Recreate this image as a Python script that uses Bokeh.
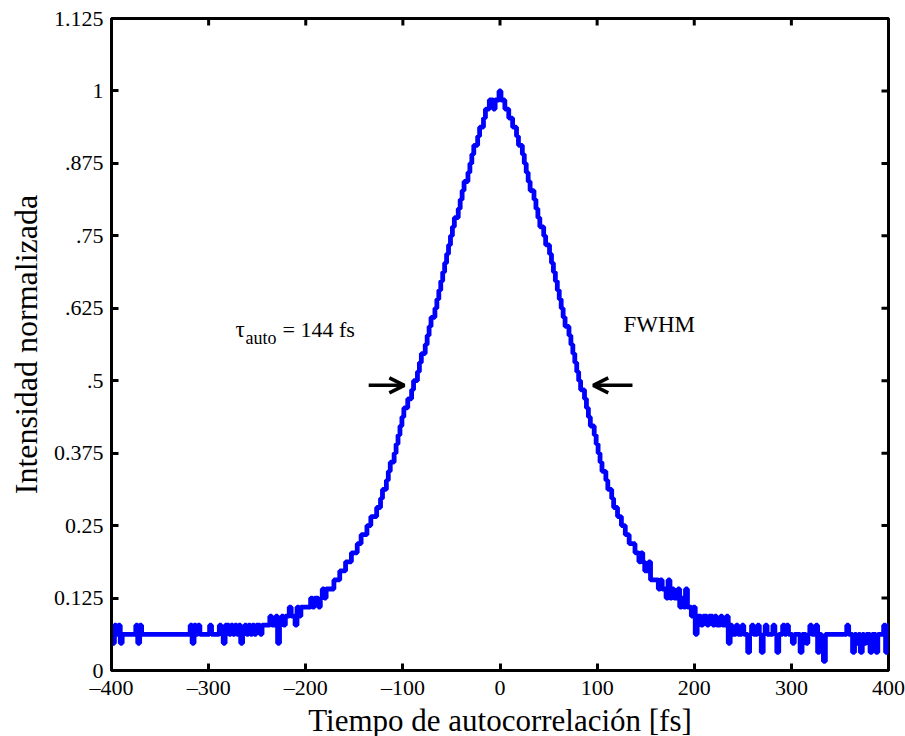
import numpy as np
from bokeh.plotting import figure
from bokeh.models import Range1d, FixedTicker, Arrow, OpenHead
from bokeh.core.properties import value
from bokeh.embed import file_html
from bokeh.resources import INLINE

# ---------------- data (raw detector counts, full scale = 64) ----------------
time_fs = np.arange(-400, 401, 2)  # sampling grid of the autocorrelator, fs

counts_m400 = [4, 3, 5, 4, 5, 3, 4, 4, 4, 4, 4, 4, 4, 5, 3, 5, 4, 4, 4, 4]
counts_m360 = [4, 4, 4, 4, 4, 4, 4, 4, 4, 4, 4, 4, 4, 4, 4, 4, 4, 4, 4, 4]
counts_m320 = [4, 5, 3, 5, 4, 5, 4, 4, 4, 4, 4, 5, 4, 4, 4, 4, 5, 4, 3, 5]
counts_m280 = [5, 4, 5, 4, 5, 4, 5, 3, 4, 5, 4, 5, 4, 5, 4, 5, 5, 4, 5, 5]
counts_m240 = [5, 5, 6, 5, 5, 6, 3, 5, 6, 5, 6, 6, 7, 6, 6, 5, 7, 6, 7, 7]
counts_m200 = [7, 7, 7, 8, 7, 8, 8, 7, 8, 9, 8, 9, 9, 9, 9, 10, 10, 10, 11, 11]
counts_m160 = [11, 12, 12, 12, 13, 13, 13, 14, 14, 15, 15, 15, 16, 16, 17, 17, 17, 18, 18, 19]
counts_m120 = [20, 20, 21, 22, 23, 23, 24, 25, 26, 27, 28, 29, 29, 30, 30, 31, 32, 32, 33, 34]
counts_m80 = [35, 35, 36, 37, 38, 39, 39, 40, 41, 42, 43, 44, 45, 46, 47, 48, 49, 50, 50, 51]
counts_m40 = [52, 53, 54, 54, 55, 56, 57, 58, 58, 59, 60, 60, 61, 62, 62, 63, 63, 62, 63, 63]
counts_p0 = [64, 63, 63, 62, 62, 61, 61, 60, 60, 59, 58, 58, 57, 56, 55, 54, 53, 53, 52, 51]
counts_p40 = [50, 49, 49, 48, 47, 47, 46, 45, 44, 43, 42, 41, 40, 39, 38, 38, 37, 36, 35, 34]
counts_p80 = [33, 32, 31, 31, 30, 29, 28, 27, 27, 26, 25, 24, 23, 22, 22, 21, 20, 20, 19, 18]
counts_p120 = [18, 17, 17, 16, 16, 15, 15, 14, 14, 14, 13, 13, 12, 13, 12, 11, 11, 12, 10, 10]
counts_p160 = [10, 10, 9, 10, 9, 9, 8, 10, 8, 9, 8, 8, 9, 7, 8, 7, 9, 7, 7, 6]
counts_p200 = [7, 4, 6, 6, 5, 6, 6, 5, 6, 6, 5, 6, 5, 5, 6, 5, 5, 6, 3, 5]
counts_p240 = [4, 4, 5, 4, 4, 5, 4, 4, 2, 4, 5, 4, 4, 5, 4, 2, 4, 5, 4, 4]
counts_p280 = [4, 5, 4, 2, 4, 4, 5, 4, 5, 4, 4, 3, 4, 4, 4, 2, 4, 4, 3, 4]
counts_p320 = [5, 4, 4, 5, 2, 4, 3, 1, 4, 4, 4, 4, 4, 4, 4, 4, 4, 4, 4, 5]
counts_p360 = [4, 4, 2, 4, 3, 4, 2, 4, 3, 4, 4, 2, 4, 4, 2, 4, 4, 4, 5, 2]
counts_p400 = [5]

counts = (counts_m400 + counts_m360 + counts_m320 + counts_m280 + counts_m240 +
          counts_m200 + counts_m160 + counts_m120 + counts_m80 + counts_m40 +
          counts_p0 + counts_p40 + counts_p80 + counts_p120 + counts_p160 +
          counts_p200 + counts_p240 + counts_p280 + counts_p320 + counts_p360 +
          counts_p400)
full_scale = 64
intensity = np.array(counts, dtype=float) / full_scale

x_ticks = [-400, -300, -200, -100, 0, 100, 200, 300, 400]
x_tick_labels = ["\u2013400", "\u2013300", "\u2013200", "\u2013100", "0", "100", "200", "300", "400"]
y_ticks = [0, 0.125, 0.25, 0.375, 0.5, 0.625, 0.75, 0.875, 1.0, 1.125]
y_tick_labels = ["0", "0.125", "0.25", "0.375", ".5", ".625", ".75", ".875", "1", "1.125"]

x_label = "Tiempo de autocorrelación [fs]"
y_label = "Intensidad normalizada"

X_MIN, X_MAX = -400, 400
Y_MIN, Y_MAX = 0, 1.125

# annotation placement (data units)
fwhm_y = 0.492
left_arrow = (-135.2, -98.5)
right_arrow = (136.4, 96.0)

FONT = "Liberation Serif"

p = figure(frame_width=777, frame_height=652, output_backend="svg", toolbar_location=None,
           x_range=Range1d(X_MIN, X_MAX), y_range=Range1d(Y_MIN, Y_MAX),
           min_border_left=111, min_border_right=17, min_border_top=18, min_border_bottom=66)
p.grid.visible = False
p.outline_line_color = "black"
p.outline_line_width = 3
p.background_fill_color = "white"
p.border_fill_color = "white"

def style_axis(ax, ticks, labels):
    ax.ticker = FixedTicker(ticks=ticks)
    ax.axis_line_width = 3
    ax.axis_line_color = "black"
    ax.major_tick_in = 7
    ax.major_tick_out = 0
    ax.major_tick_line_width = 3
    ax.major_tick_line_color = "black"
    ax.minor_tick_line_color = None
    ax.major_label_text_font = FONT
    ax.major_label_text_font_size = "22px"
    ax.major_label_text_color = "black"
    ax.major_label_overrides = {t: l for t, l in zip(ticks, labels)}
    ax.axis_label_text_font = FONT
    ax.axis_label_text_font_style = "normal"
    ax.axis_label_text_color = "black"

style_axis(p.xaxis[0], x_ticks, x_tick_labels)
style_axis(p.yaxis[0], y_ticks, y_tick_labels)
p.xaxis.axis_label = x_label
p.yaxis.axis_label = y_label
p.xaxis.axis_label_text_font_size = "31px"
p.yaxis.axis_label_text_font_size = "32px"
p.xaxis.major_label_standoff = 4
p.xaxis.axis_label_standoff = 0
p.yaxis.major_label_standoff = 8
p.yaxis.axis_label_standoff = 7

# inward ticks on the top and right edges of the box (MATLAB style)
p.ray(x=x_ticks, y=[Y_MAX] * len(x_ticks), length=7, length_units="screen",
      angle=-np.pi / 2, line_color="black", line_width=3)
p.ray(x=[X_MAX] * len(y_ticks), y=y_ticks, length=7, length_units="screen",
      angle=np.pi, line_color="black", line_width=3)

p.step(time_fs, intensity, mode="center", line_color="#0000ff", line_width=4.8)

for xs, xe in (left_arrow, right_arrow):
    p.add_layout(Arrow(end=OpenHead(size=15, line_width=3.5, line_color="black"),
                       x_start=xs, y_start=fwhm_y, x_end=xe, y_end=fwhm_y,
                       line_width=3.5, line_color="black"))

p.text(x=[-272.3], y=[0.589], text=["τ"], text_font=value(FONT), text_font_size="23px",
       text_baseline="alphabetic", text_color="black")
p.text(x=[-262.0], y=[0.574], text=["auto"], text_font=value(FONT), text_font_size="18px",
       text_baseline="alphabetic", text_color="black")
p.text(x=[-223.9], y=[0.589], text=["= 144 fs"], text_font=value(FONT), text_font_size="22px",
       text_baseline="alphabetic", text_color="black")
p.text(x=[127.1], y=[0.597], text=["FWHM"], text_font=value(FONT), text_font_size="23px",
       text_baseline="alphabetic", text_color="black")

open("out.html", "w").write(file_html(p, INLINE))
